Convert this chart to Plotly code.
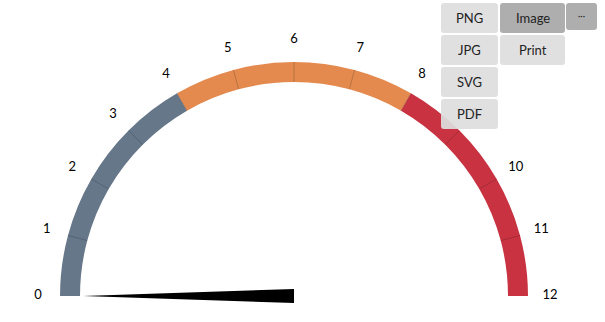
import math
import plotly.graph_objects as go

# ---- data ----
gauge_min = 0
gauge_max = 12
tick_values = list(range(0, 13))
tick_labels = [str(v) for v in tick_values]
band_starts = [0, 4, 8]
band_ends = [4, 8, 12]
band_colors = ["#67778a", "#e48a4e", "#c93341"]
minor_ticks = [1, 2, 3, 4, 5, 6, 7, 8, 9, 10, 11]
needle_value = 0

menu_items = ["PNG", "Image", "···", "JPG", "Print", "SVG", "PDF"]

W, H = 605, 322
DEG = 180.0 / (gauge_max - gauge_min)


def to_deg(v):
    return (v - gauge_min) * DEG


INNER = 214 / 234.0
OUTER = 1.0
LABEL_R = 256 / 234.0
RMAX = 1.14
TIP = 211 / 234.0
HALF = 7 / 234.0

fig = go.Figure()

# bands
fig.add_trace(go.Barpolar(
    theta=[to_deg((s + e) / 2) for s, e in zip(band_starts, band_ends)],
    width=[to_deg(e) - to_deg(s) for s, e in zip(band_starts, band_ends)],
    r=[OUTER - INNER] * len(band_starts),
    base=[INNER] * len(band_starts),
    marker=dict(color=band_colors, line=dict(width=0)),
    hoverinfo="skip", showlegend=False,
))

# minor tick lines across band
for v in minor_ticks:
    fig.add_trace(go.Scatterpolar(
        r=[INNER, OUTER], theta=[to_deg(v), to_deg(v)], mode="lines",
        line=dict(color="rgba(0,0,0,0.18)", width=1),
        hoverinfo="skip", showlegend=False,
    ))

# tick labels
fig.add_trace(go.Scatterpolar(
    r=[LABEL_R] * len(tick_values), theta=[to_deg(v) for v in tick_values],
    text=tick_labels, mode="text", textposition="middle center",
    textfont=dict(family="Lato", size=13, color="#000000"),
    cliponaxis=False, hoverinfo="skip", showlegend=False,
))

# needle drawn on an overlay cartesian plane sharing the gauge centre/scale
cx, cy, R = 294, 296, 234
a = math.radians(180 - to_deg(needle_value))
nx = [TIP * math.cos(a), HALF * math.cos(a + math.pi / 2), HALF * math.cos(a - math.pi / 2), TIP * math.cos(a)]
ny = [TIP * math.sin(a), HALF * math.sin(a + math.pi / 2), HALF * math.sin(a - math.pi / 2), TIP * math.sin(a)]
fig.add_trace(go.Scatter(
    x=nx, y=ny, mode="lines", fill="toself", fillcolor="#000000",
    line=dict(color="#000000", width=0), hoverinfo="skip", showlegend=False,
))

ext = 0.5
Rp = R * RMAX
below = Rp * math.sin(math.radians(ext))
fig.update_layout(
    width=W, height=H,
    margin=dict(l=0, r=0, t=0, b=0),
    paper_bgcolor="white", plot_bgcolor="rgba(0,0,0,0)",
    font=dict(family="Lato", size=13, color="#000000"),
    xaxis=dict(range=[-cx / R, (W - cx) / R], visible=False, fixedrange=True),
    yaxis=dict(range=[-(H - cy) / R, cy / R], visible=False, fixedrange=True),
    polar=dict(
        domain=dict(x=[(cx - Rp) / W, (cx + Rp) / W], y=[(H - cy - below) / H, (H - cy + Rp) / H]),
        sector=[-ext, 180 + ext],
        bgcolor="rgba(0,0,0,0)",
        radialaxis=dict(range=[0, RMAX], visible=False),
        angularaxis=dict(
            rotation=180, direction="clockwise",
            showgrid=False, showline=False, showticklabels=False, ticks="",
        ),
    ),
)

# export menu (UI overlay)
boxes = [
    (441, 498, 3, 33, "rgba(222,222,222,0.93)"),
    (500, 565, 3, 33, "rgba(170,170,170,0.95)"),
    (566, 597, 3, 30, "rgba(170,170,170,0.95)"),
    (441, 498, 35, 65, "rgba(222,222,222,0.93)"),
    (500, 565, 35, 65, "rgba(222,222,222,0.93)"),
    (441, 498, 67, 97, "rgba(222,222,222,0.93)"),
    (441, 498, 99, 129, "rgba(222,222,222,0.93)"),
]


def px(x):
    return x / W


def py(y):
    return (H - y) / H


def rounded(x0, x1, y0, y1, r=3):
    rx, ry = r / W, r / H
    X0, X1, Y0, Y1 = px(x0), px(x1), py(y1), py(y0)
    return (f"M {X0+rx},{Y0} L {X1-rx},{Y0} Q {X1},{Y0} {X1},{Y0+ry} "
            f"L {X1},{Y1-ry} Q {X1},{Y1} {X1-rx},{Y1} L {X0+rx},{Y1} "
            f"Q {X0},{Y1} {X0},{Y1-ry} L {X0},{Y0+ry} Q {X0},{Y0} {X0+rx},{Y0} Z")


for (x0, x1, y0, y1, col), name in zip(boxes, menu_items):
    fig.add_shape(type="path", path=rounded(x0, x1, y0, y1), xref="paper", yref="paper",
                  fillcolor=col, line=dict(width=0), layer="above")
    ymid = 15 if name == "···" else (y0 + y1) / 2
    size = 9 if name == "···" else 13
    fig.add_annotation(x=px((x0 + x1) / 2), y=py(ymid), xref="paper", yref="paper",
                       xanchor="center", yanchor="middle",
                       text=name, showarrow=False, font=dict(family="Lato", size=size, color="#222222"))

fig.write_html("out.html")
